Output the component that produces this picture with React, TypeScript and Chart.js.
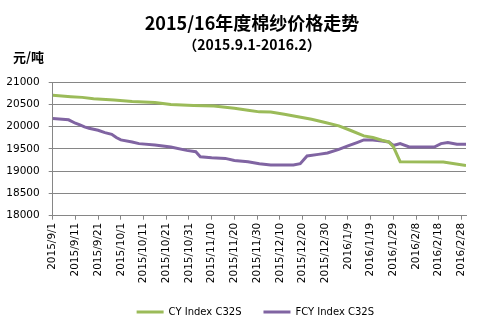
import { useEffect, useRef } from 'react';
import { Chart, registerables } from 'chart.js';

Chart.register(...registerables);

const titleText = '2015/16年度棉纱价格走势';
const subtitleText = '（2015.9.1-2016.2）';
const unitText = '元/吨';

const tickLabels = [
  '2015/9/1', '2015/9/11', '2015/9/21', '2015/10/1', '2015/10/11', '2015/10/21',
  '2015/10/31', '2015/11/10', '2015/11/20', '2015/11/30', '2015/12/10', '2015/12/20',
  '2015/12/30', '2016/1/9', '2016/1/19', '2016/1/29', '2016/2/8', '2016/2/18', '2016/2/28',
];

// day offsets from 2015/9/1
const cyDays = [0, 8, 13, 18, 27, 35, 45, 52, 62, 71, 80, 86, 91, 96, 102, 108, 114, 120, 126, 131, 137, 141, 145, 148, 150, 153, 172, 182];
const cyValues = [20700, 20670, 20655, 20626, 20594, 20565, 20542, 20495, 20475, 20460, 20410, 20368, 20330, 20325, 20278, 20220, 20165, 20091, 20016, 19917, 19790, 19753, 19692, 19655, 19550, 19211, 19205, 19128];

const fcyDays = [0, 7, 10, 12, 14, 16, 20, 23, 26, 28, 30, 35, 38, 45, 52, 59, 63, 65, 70, 76, 80, 86, 91, 96, 106, 109, 112, 117, 121, 126, 130, 134, 137, 141, 145, 148, 150, 153, 157, 168, 171, 174, 178, 182];
const fcyValues = [20181, 20152, 20075, 20039, 19994, 19962, 19917, 19865, 19827, 19753, 19700, 19655, 19617, 19588, 19542, 19466, 19437, 19324, 19302, 19286, 19240, 19211, 19166, 19137, 19137, 19166, 19340, 19376, 19407, 19489, 19565, 19640, 19700, 19700, 19677, 19655, 19575, 19617, 19542, 19542, 19617, 19640, 19602, 19602];

const GRID = '#868686';

const textPlugin = {
  id: 'textPlugin',
  afterLayout(chart: any) {
    if (chart.legend) {
      chart.legend.left -= 4;
      chart.legend.right -= 4;
    }
  },
  afterDraw(chart: any) {
    const ctx = chart.ctx;
    ctx.save();
    ctx.fillStyle = '#000';
    ctx.textBaseline = 'middle';
    ctx.textAlign = 'center';
    ctx.font = 'bold 18px "Noto Sans CJK SC"';
    ctx.fillText(titleText, 252, 23);
    ctx.font = 'bold 14px "Noto Sans CJK SC"';
    ctx.fillText(subtitleText, 252, 45);
    ctx.textAlign = 'left';
    ctx.font = 'bold 13px "Noto Sans CJK SC"';
    ctx.fillText(unitText, 13, 57.5);
    ctx.restore();
  },
};

export default function App() {
  const ref = useRef<HTMLCanvasElement>(null);
  useEffect(() => {
    if (!ref.current) return;
    const chart = new Chart(ref.current, {
      type: 'line',
      data: {
        datasets: [
          {
            label: 'CY Index C32S',
            data: cyDays.map((d, i) => ({ x: d, y: cyValues[i] })),
            borderColor: '#9BBB59',
            backgroundColor: '#9BBB59',
            borderWidth: 3,
            pointRadius: 0,
            tension: 0,
          },
          {
            label: 'FCY Index C32S',
            data: fcyDays.map((d, i) => ({ x: d, y: fcyValues[i] })),
            borderColor: '#8064A2',
            backgroundColor: '#8064A2',
            borderWidth: 3,
            pointRadius: 0,
            tension: 0,
          },
        ],
      },
      options: {
        animation: false,
        responsive: false,
        devicePixelRatio: 1,
        layout: { padding: { left: 0, right: 19, top: 82, bottom: 2 } },
        plugins: {
          title: { display: false },
          tooltip: { enabled: false },
          legend: {
            display: true,
            position: 'bottom',
            fullSize: false,
            labels: {
              usePointStyle: true,
              pointStyle: 'line',
              pointStyleWidth: 27,
              padding: 22,
              color: '#000',
              font: { family: 'DejaVu Sans', size: 10 },
            },
          },
        },
        scales: {
          x: {
            type: 'linear',
            min: 0,
            max: 182,
            afterFit: (s: any) => { s.height = 69.3; },
            grid: { drawOnChartArea: false, drawTicks: true, tickLength: 4, color: GRID },
            border: { color: GRID },
            ticks: {
              stepSize: 10,
              includeBounds: false,
              autoSkip: false,
              maxRotation: 90,
              minRotation: 90,
              padding: 3,
              color: '#000',
              font: { family: 'DejaVu Sans', size: 10.5 },
              callback: (v: any) => tickLabels[Math.round(Number(v) / 10)] ?? '',
            },
          },
          y: {
            min: 18000,
            max: 21000,
            afterFit: (s: any) => { s.width = 52.7; },
            grid: { color: GRID, tickLength: 4 },
            border: { color: GRID },
            ticks: {
              stepSize: 500,
              padding: 9,
              color: '#000',
              font: { family: 'DejaVu Sans', size: 10.5 },
              callback: (v: any) => String(v),
            },
          },
        },
      },
      plugins: [textPlugin],
    } as any);
    return () => chart.destroy();
  }, []);
  return (
    <div style={{ position: 'fixed', left: 0, top: 0, width: 485, height: 329, background: '#fff' }}>
      <canvas ref={ref} width={485} height={329} />
    </div>
  );
}
